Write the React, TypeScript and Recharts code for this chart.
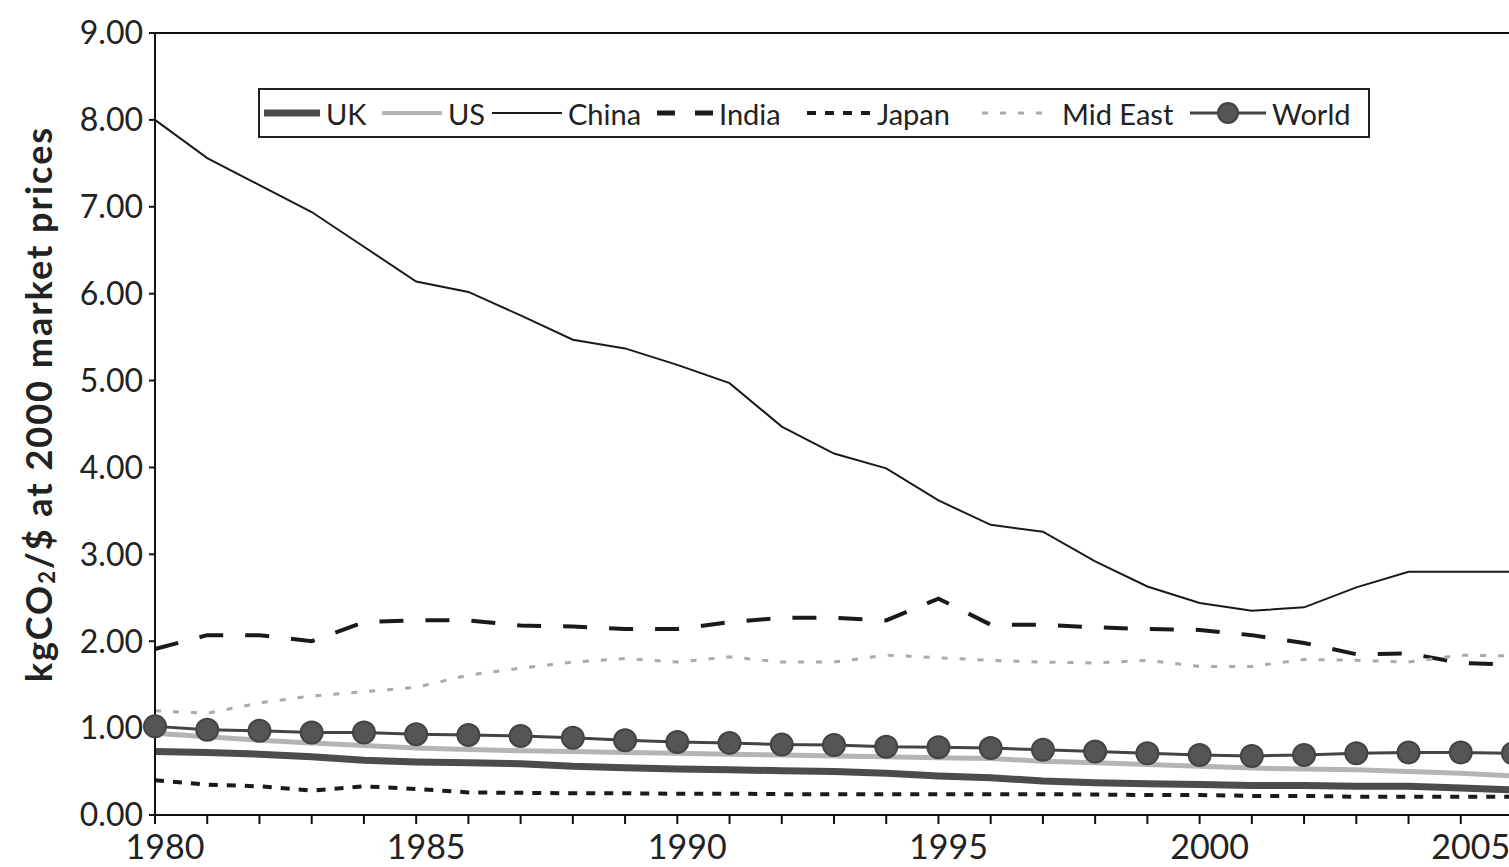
import React from 'react';
import { LineChart, Line, XAxis, YAxis, ReferenceLine, Legend } from 'recharts';

// Carbon intensity, kgCO2 per $ of GDP at 2000 market prices
const years = [
  1980, 1981, 1982, 1983, 1984, 1985, 1986, 1987, 1988, 1989,
  1990, 1991, 1992, 1993, 1994, 1995, 1996, 1997, 1998, 1999,
  2000, 2001, 2002, 2003, 2004, 2005, 2006,
];

const uk = [
  0.73, 0.72, 0.7, 0.67, 0.63, 0.61, 0.6, 0.59, 0.56, 0.545,
  0.53, 0.52, 0.51, 0.5, 0.48, 0.45, 0.43, 0.39, 0.37, 0.36,
  0.35, 0.34, 0.34, 0.33, 0.33, 0.31, 0.29,
];
const us = [
  0.94, 0.9, 0.86, 0.83, 0.8, 0.77, 0.755, 0.74, 0.73, 0.72,
  0.71, 0.7, 0.69, 0.68, 0.67, 0.66, 0.65, 0.62, 0.6, 0.58,
  0.56, 0.54, 0.53, 0.52, 0.5, 0.48, 0.45,
];
const china = [
  8.0, 7.56, 7.25, 6.94, 6.54, 6.14, 6.02, 5.75, 5.47, 5.37,
  5.18, 4.97, 4.47, 4.16, 3.99, 3.62, 3.34, 3.26, 2.92, 2.63,
  2.44, 2.35, 2.39, 2.62, 2.8, 2.8, 2.8,
];
const india = [
  1.91, 2.07, 2.07, 2.0, 2.22, 2.24, 2.24, 2.18, 2.17, 2.14,
  2.14, 2.22, 2.27, 2.27, 2.24, 2.49, 2.19, 2.19, 2.16, 2.14,
  2.13, 2.07, 1.98, 1.85, 1.86, 1.75, 1.73,
];
const japan = [
  0.4, 0.35, 0.33, 0.28, 0.33, 0.3, 0.26, 0.255, 0.25, 0.25,
  0.245, 0.245, 0.24, 0.24, 0.24, 0.24, 0.24, 0.24, 0.235, 0.23,
  0.23, 0.22, 0.22, 0.21, 0.21, 0.21, 0.21,
];
const midEast = [
  1.2, 1.17, 1.29, 1.37, 1.42, 1.47, 1.61, 1.69, 1.76, 1.8,
  1.76, 1.82, 1.76, 1.76, 1.84, 1.81, 1.78, 1.76, 1.75, 1.78,
  1.71, 1.71, 1.79, 1.78, 1.76, 1.84, 1.83,
];
const world = [
  1.02, 0.98, 0.97, 0.95, 0.95, 0.93, 0.92, 0.91, 0.89, 0.86,
  0.84, 0.83, 0.81, 0.805, 0.785, 0.78, 0.77, 0.75, 0.73, 0.71,
  0.69, 0.68, 0.69, 0.71, 0.72, 0.72, 0.71,
];

const yTicks = [0, 1, 2, 3, 4, 5, 6, 7, 8, 9];

const data = years.map((year, i) => ({
  year,
  UK: uk[i],
  US: us[i],
  China: china[i],
  India: india[i],
  Japan: japan[i],
  'Mid East': midEast[i],
  World: world[i],
}));

const FONT = 'Lato, "Open Sans", sans-serif';
const INK = '#222';

const series = [
  { key: 'China', stroke: '#1a1a1a', width: 2, dash: undefined },
  { key: 'India', stroke: '#1a1a1a', width: 4, dash: '24 22' },
  { key: 'Mid East', stroke: '#aaa', width: 3, dash: '6 12' },
  { key: 'Japan', stroke: '#1a1a1a', width: 4, dash: '9 9' },
  { key: 'UK', stroke: '#4c4c4c', width: 7, dash: undefined },
  { key: 'US', stroke: '#b4b4b4', width: 5, dash: undefined },
];

// legend item positions inside the box (px from box left)
const legendItems = [
  { key: 'UK', left: 4, sample: 56, stroke: '#4c4c4c', width: 7 },
  { key: 'US', left: 122, sample: 60, stroke: '#b4b4b4', width: 4 },
  { key: 'China', left: 232, sample: 70, stroke: '#1a1a1a', width: 2 },
  { key: 'India', left: 397, sample: 56, stroke: '#1a1a1a', width: 5, dash: '18 20' },
  { key: 'Japan', left: 547, sample: 64, stroke: '#1a1a1a', width: 4, dash: '9 9' },
  { key: 'Mid East', left: 722, sample: 62, stroke: '#aaa', width: 3, dash: '6 12', gap: 18 },
  { key: 'World', left: 930, sample: 76, stroke: '#444', width: 3, marker: true },
];

function LegendBox() {
  return (
    <div
      style={{
        position: 'relative',
        width: 1112,
        height: 50,
        border: '2px solid #222',
        boxSizing: 'border-box',
        background: '#fff',
        fontFamily: FONT,
        fontSize: 29,
        color: INK,
      }}
    >
      {legendItems.map((it) => (
        <div
          key={it.key}
          style={{ position: 'absolute', left: it.left, top: 4, display: 'flex', alignItems: 'center', height: 38 }}
        >
          <svg width={it.sample} height={30}>
            <line
              x1={0}
              x2={it.sample}
              y1={15}
              y2={15}
              stroke={it.stroke}
              strokeWidth={it.width}
              strokeDasharray={it.dash}
            />
            {it.marker && <circle cx={it.sample / 2} cy={15} r={10} fill="#555" stroke="#444" strokeWidth={2} />}
          </svg>
          <span style={{ marginLeft: it.gap || 6 }}>{it.key}</span>
        </div>
      ))}
    </div>
  );
}

function YearTick(props: any) {
  const { x, y, payload } = props;
  if (payload.value % 5 !== 0) return <g />;
  return (
    <text x={x + 10} y={y} dy={33} textAnchor="middle" fill={INK} fontSize={34} fontFamily={FONT}>
      {payload.value}
    </text>
  );
}

function YLabel() {
  const cx = 38;
  const cy = 404;
  return (
    <text
      x={cx}
      y={cy}
      transform={`rotate(-90, ${cx}, ${cy})`}
      textAnchor="middle"
      dominantBaseline="central"
      fill={INK}
      fontSize={36}
      fontWeight={700}
      fontFamily={FONT}
      letterSpacing={2}
    >
      kgCO<tspan fontSize={22} dy={8}>2</tspan>
      <tspan dy={-8}>/$ at 2000 market prices</tspan>
    </text>
  );
}

export default function App() {
  return (
    <div
      style={{
        position: 'fixed',
        top: 0,
        left: 0,
        width: 1509,
        height: 867,
        overflow: 'hidden',
        background: '#fff',
        fontFamily: FONT,
      }}
    >
      <LineChart
        width={1530}
        height={867}
        data={data}
        margin={{ top: 33, right: 17, bottom: 2, left: 0 }}
      >
        <XAxis
          dataKey="year"
          type="number"
          domain={[1980, 2006]}
          ticks={years}
          interval={0}
          allowDecimals={false}
          height={50}
          stroke="#111"
          strokeWidth={2}
          tickSize={9}
          tickMargin={2}
          tick={<YearTick />}
        />
        <YAxis
          domain={[0, 9]}
          ticks={yTicks}
          interval={0}
          width={155}
          stroke="#111"
          strokeWidth={2}
          tickSize={6}
          tickMargin={6}
          tickFormatter={(v: number) => v.toFixed(2)}
          tick={{ fill: INK, fontSize: 32, fontFamily: FONT }}
          label={<YLabel />}
        />
        <ReferenceLine y={9} stroke="#111" strokeWidth={2} />
        {series.map((s) => (
          <Line
            key={s.key}
            dataKey={s.key}
            stroke={s.stroke}
            strokeWidth={s.width}
            strokeDasharray={s.dash}
            dot={false}
            activeDot={false}
            isAnimationActive={false}
          />
        ))}
        <Line
          dataKey="World"
          stroke="#444"
          strokeWidth={3}
          dot={{ r: 11, fill: '#555', stroke: '#444', strokeWidth: 2 }}
          activeDot={false}
          isAnimationActive={false}
        />
        <Legend
          layout="horizontal"
          verticalAlign="middle"
          align="center"
          content={() => <LegendBox />}
          wrapperStyle={{ position: 'absolute', top: 88, left: 258, width: 1112, height: 50 }}
        />
      </LineChart>
    </div>
  );
}
